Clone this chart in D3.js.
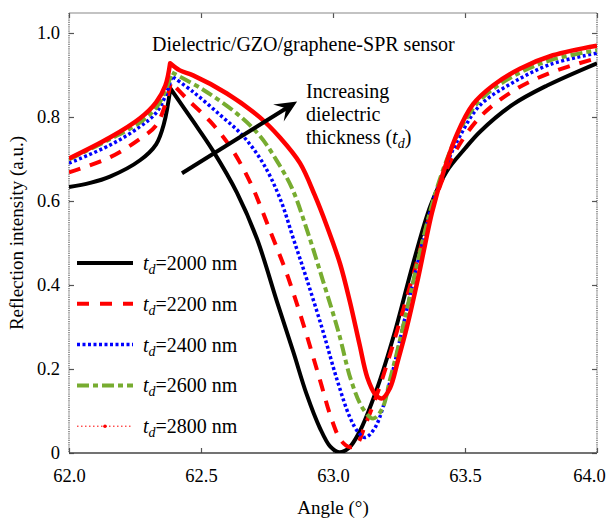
<!DOCTYPE html>
<html>
<head>
<meta charset="utf-8">
<script src="https://cdn.jsdelivr.net/npm/d3@7"></script>
<style>
  body { margin: 0; background: #fff; }
</style>
</head>
<body>
<div id="chart"></div>
<script>
// Значения: [угол (°), отражение]
const td2000 = [[62.0,0.633],[62.08,0.643],[62.155,0.658],[62.269,0.697],[62.33,0.735],[62.36,0.785],[62.384,0.868],
  [62.47,0.79],[62.545,0.72],[62.636,0.62],[62.712,0.51],[62.788,0.36],[62.85,0.24],[62.9,0.14],[62.95,0.06],[62.99,0.015],
  [63.023,0.002],[63.06,0.012],[63.1,0.05],[63.167,0.154],[63.235,0.29],[63.303,0.45],[63.37,0.59],[63.43,0.67],
  [63.5,0.725],[63.557,0.765],[63.682,0.83],[63.811,0.875],[64.0,0.928]];
const td2200 = [[62.0,0.668],[62.155,0.704],[62.269,0.748],[62.33,0.78],[62.365,0.83],[62.386,0.883],
  [62.447,0.843],[62.534,0.79],[62.61,0.73],[62.686,0.645],[62.761,0.53],[62.826,0.425],[62.886,0.31],[62.951,0.173],
  [62.995,0.08],[63.03,0.03],[63.064,0.014],[63.09,0.02],[63.121,0.065],[63.167,0.14],[63.216,0.235],[63.261,0.33],
  [63.311,0.44],[63.367,0.566],[63.424,0.665],[63.47,0.725],[63.557,0.8],[63.682,0.862],[63.822,0.905],[64.0,0.94]];
const td2400 = [[62.0,0.69],[62.155,0.733],[62.269,0.777],[62.33,0.81],[62.365,0.85],[62.39,0.897],
  [62.47,0.86],[62.572,0.805],[62.659,0.755],[62.735,0.69],[62.8,0.605],[62.85,0.51],[62.902,0.411],
  [62.962,0.29],[63.015,0.175],[63.064,0.085],[63.095,0.05],[63.121,0.037],[63.159,0.06],[63.216,0.17],[63.261,0.29],
  [63.303,0.405],[63.341,0.505],[63.379,0.6],[63.432,0.69],[63.481,0.755],[63.557,0.828],[63.682,0.882],[63.822,0.925],[64.0,0.952]];
const td2600 = [[62.0,0.699],[62.155,0.747],[62.269,0.787],[62.33,0.822],[62.365,0.862],[62.39,0.906],
  [62.508,0.865],[62.636,0.808],[62.723,0.755],[62.788,0.695],[62.845,0.63],[62.902,0.53],[62.962,0.41],[63.02,0.29],
  [63.07,0.17],[63.114,0.105],[63.152,0.082],[63.186,0.105],[63.216,0.175],[63.254,0.27],[63.292,0.375],[63.33,0.48],
  [63.379,0.6],[63.432,0.7],[63.481,0.77],[63.557,0.84],[63.682,0.897],[63.822,0.935],[64.0,0.959]];
const td2800 = [[62.0,0.701],[62.155,0.751],[62.269,0.797],[62.33,0.835],[62.365,0.875],[62.383,0.928],
  [62.42,0.911],[62.47,0.899],[62.598,0.856],[62.723,0.799],[62.799,0.751],[62.875,0.69],[62.93,0.615],[62.977,0.54],
  [63.027,0.45],[63.064,0.36],[63.1,0.26],[63.13,0.18],[63.16,0.14],[63.186,0.13],[63.216,0.155],[63.246,0.22],
  [63.28,0.3],[63.318,0.404],[63.348,0.494],[63.375,0.573],[63.417,0.666],[63.47,0.76],[63.53,0.83],
  [63.606,0.875],[63.708,0.915],[63.833,0.947],[64.0,0.97]];

const seriesNames = ['2000', '2200', '2400', '2600', '2800'];
const seriesData = [td2000, td2200, td2400, td2600, td2800];
const xTicks = [62.0, 62.5, 63.0, 63.5, 64.0];
const yTicks = [0, 0.2, 0.4, 0.6, 0.8, 1.0];

// Стили линий
const styles = [
  { color: '#000000', width: 4,   dash: null },
  { color: '#ff0000', width: 4,   dash: '12,10' },
  { color: '#0000ff', width: 3.5, dash: '3,2.5' },
  { color: '#77ac30', width: 4,   dash: '12,4,5,4' },
  { color: '#ff0000', width: 4.5, dash: null }
];

const FONT = '"Liberation Serif", "Times New Roman", Times, "DejaVu Serif", serif';
const W = 608, H = 522;
const margin = { top: 13, right: 11, bottom: 69, left: 69 };

const svg = d3.select('#chart').append('svg')
  .attr('width', W).attr('height', H)
  .style('display', 'block')
  .attr('font-family', FONT)
  .style('font-family', FONT);

const x = d3.scaleLinear().domain([62, 64]).range([margin.left, W - margin.right]);
const y = d3.scaleLinear().domain([0, 1.0476]).range([H - margin.bottom, margin.top]);

svg.append('clipPath').attr('id', 'clip')
  .append('rect')
  .attr('x', margin.left).attr('y', margin.top)
  .attr('width', W - margin.left - margin.right)
  .attr('height', H - margin.top - margin.bottom);

// Оси
const axisColor = '#555';
const gx = svg.append('g')
  .attr('transform', `translate(0,${H - margin.bottom})`)
  .call(d3.axisBottom(x).tickValues(xTicks).tickSize(-5).tickPadding(16).tickFormat(d3.format('.1f')));
const gxTop = svg.append('g')
  .attr('transform', `translate(0,${margin.top})`)
  .call(d3.axisTop(x).tickValues(xTicks).tickSize(-5).tickFormat(''));
const gy = svg.append('g')
  .attr('transform', `translate(${margin.left},0)`)
  .call(d3.axisLeft(y).tickValues(yTicks).tickSize(-5).tickPadding(9)
    .tickFormat(d => d === 0 ? '0' : d.toFixed(1)));
const gyRight = svg.append('g')
  .attr('transform', `translate(${W - margin.right},0)`)
  .call(d3.axisRight(y).tickValues(yTicks).tickSize(-5).tickFormat(''));

[gx, gxTop, gy, gyRight].forEach(g => {
  g.attr('font-family', FONT).attr('font-size', null);
  g.select('.domain').remove();
  g.selectAll('line').attr('stroke', axisColor).attr('stroke-width', 1.2);
  g.selectAll('text').attr('fill', '#000').style('font-size', '18.5px')
    .style('font-family', FONT);
});
// последняя подпись у края: сдвигаем, чтобы не обрезалась
gx.selectAll('.tick text').filter(d => d === 64).attr('x', -8);

// Рамка
const x0 = margin.left, x1 = W - margin.right, y0 = margin.top, y1 = H - margin.bottom;
svg.append('line').attr('x1', x0).attr('x2', x1).attr('y1', y0).attr('y2', y0)
  .attr('stroke', '#888').attr('stroke-width', 1.2);
svg.append('line').attr('x1', x0).attr('x2', x1).attr('y1', y1).attr('y2', y1)
  .attr('stroke', '#444').attr('stroke-width', 1.6);
[x0, x1].forEach(xx => {
  svg.append('line').attr('x1', xx).attr('x2', xx).attr('y1', y0).attr('y2', y1)
    .attr('stroke', '#555').attr('stroke-width', 1.2).attr('stroke-dasharray', '1.2,1');
});

// Кривые: левая и правая ветви отдельно, чтобы пик остался острым
const line = d3.line()
  .x(d => x(d[0]))
  .y(d => y(d[1]))
  .curve(d3.curveCatmullRom.alpha(0.5));

function curvePath(data) {
  let k = d3.maxIndex(data.filter(d => d[0] < 62.6), d => d[1]);
  const left = data.slice(0, k + 1);
  const right = data.slice(k);
  return line(left) + 'L' + line(right).slice(1);
}

const curves = svg.append('g').attr('clip-path', 'url(#clip)');
seriesData.forEach((data, i) => {
  curves.append('path')
    .attr('d', curvePath(data))
    .attr('fill', 'none')
    .attr('stroke', styles[i].color)
    .attr('stroke-width', styles[i].width)
    .attr('stroke-dasharray', styles[i].dash)
    .attr('stroke-linejoin', 'round');
});

// Заголовок
svg.append('text')
  .attr('x', 152).attr('y', 51)
  .style('font-size', '20px')
  .text('Dielectric/GZO/graphene-SPR sensor');

// Стрелка
const arrowFrom = [62.428, 0.666], arrowTo = [62.864, 0.837];
const ax0 = x(arrowFrom[0]), ay0 = y(arrowFrom[1]), ax1 = x(arrowTo[0]), ay1 = y(arrowTo[1]);
const ang = Math.atan2(ay1 - ay0, ax1 - ax0);
const headLen = 22, headW = 10;
const bx = ax1 - headLen * Math.cos(ang), by = ay1 - headLen * Math.sin(ang);
svg.append('line')
  .attr('x1', ax0).attr('y1', ay0)
  .attr('x2', ax1 - 8 * Math.cos(ang)).attr('y2', ay1 - 8 * Math.sin(ang))
  .attr('stroke', '#000').attr('stroke-width', 4);
svg.append('path')
  .attr('d', `M${ax1},${ay1}L${bx + headW * Math.sin(ang)},${by - headW * Math.cos(ang)}` +
    `L${ax1 - 13 * Math.cos(ang)},${ay1 - 13 * Math.sin(ang)}` +
    `L${bx - headW * Math.sin(ang)},${by + headW * Math.cos(ang)}Z`)
  .attr('fill', '#000');

// Подпись к стрелке
const note = svg.append('g').style('font-size', '20px');
note.append('text').attr('x', 306).attr('y', 98).text('Increasing');
note.append('text').attr('x', 306).attr('y', 121).text('dielectric');
const nt = note.append('text').attr('x', 306).attr('y', 144);
nt.append('tspan').text('thickness (');
nt.append('tspan').style('font-style', 'italic').text('t');
nt.append('tspan').style('font-style', 'italic').style('font-size', '14px').attr('dy', 4).text('d');
nt.append('tspan').attr('dy', -4).text(')');

// Легенда
const legend = svg.append('g');
seriesNames.forEach((name, i) => {
  const ly = 263 + i * 40.8;
  const s = styles[i];
  if (i < 4) {
    legend.append('line')
      .attr('x1', 77).attr('x2', 133).attr('y1', ly).attr('y2', ly)
      .attr('stroke', s.color).attr('stroke-width', s.width)
      .attr('stroke-dasharray', i === 1 ? '12,11' : s.dash);
  } else {
    legend.append('line')
      .attr('x1', 77).attr('x2', 133).attr('y1', ly).attr('y2', ly)
      .attr('stroke', '#ff0000').attr('stroke-width', 1).attr('stroke-dasharray', '1.5,2.5');
    legend.append('circle').attr('cx', 105).attr('cy', ly).attr('r', 1.8).attr('fill', '#ff0000');
  }
  const t = legend.append('text').attr('x', 143).attr('y', ly + 7).style('font-size', '20px');
  t.append('tspan').style('font-style', 'italic').text('t');
  t.append('tspan').style('font-style', 'italic').style('font-size', '14px').attr('dy', 4).text('d');
  t.append('tspan').attr('dy', -4).text('=' + name + ' nm');
});

// Подписи осей
svg.append('text')
  .attr('x', x(63.0)).attr('y', 514)
  .attr('text-anchor', 'middle')
  .style('font-size', '19px')
  .text('Angle (°)');
svg.append('text')
  .attr('transform', `translate(23,${(y0 + y1) / 2}) rotate(-90)`)
  .attr('text-anchor', 'middle')
  .style('font-size', '19px')
  .text('Reflection intensity (a.u.)');
</script>
</body>
</html>
